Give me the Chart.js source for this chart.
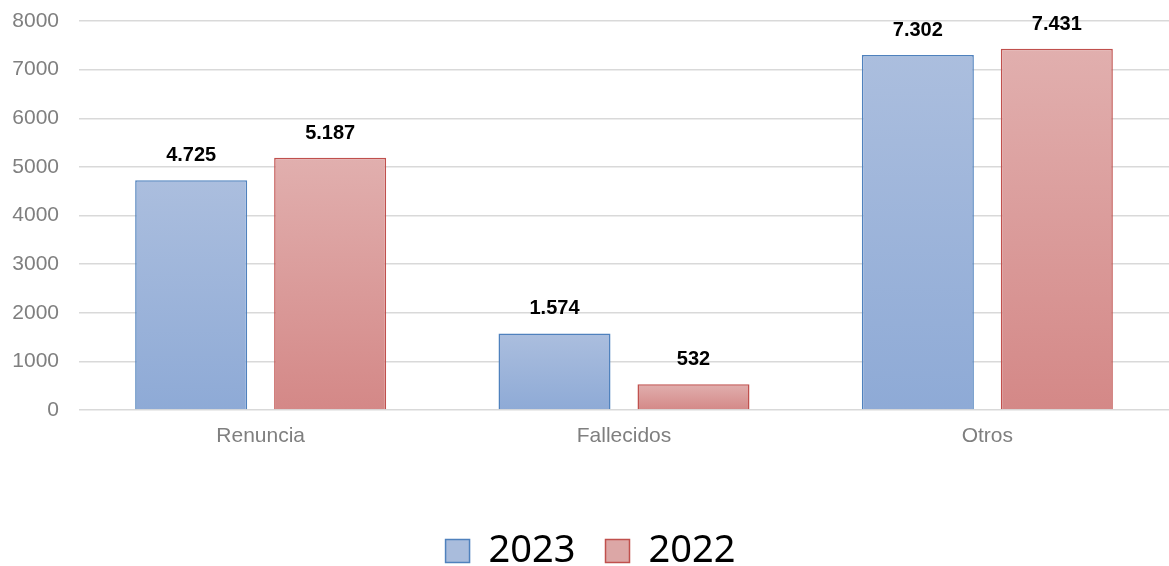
<!DOCTYPE html>
<html lang="es">
<head>
<meta charset="UTF-8" />
<title>Bajas 2023 vs 2022</title>
<script src="https://cdn.jsdelivr.net/npm/chart.js"></script>
<style>
  html, body { margin: 0; padding: 0; background: #fff; }
  #wrap { width: 1169px; height: 566px; }
</style>
</head>
<body>
<div id="wrap"><canvas id="grafico"></canvas></div>
<script>
// datos
const categorias = ["Renuncia", "Fallecidos", "Otros"];
const valores2023 = [4725, 1574, 7302];
const valores2022 = [5187, 532, 7431];
const series = ["2023", "2022"];
const colorLeyenda = ["#a9bcdc", "#dca7a6"];

// formato con punto de miles (4.725)
function formato(n) {
    return String(n).replace(/\B(?=(\d{3})+(?!\d))/g, ".");
}

// degradado por barra, de arriba (claro) hacia abajo
function degradado(arriba, abajo) {
    return function (ctx) {
        const chart = ctx.chart;
        if (!chart.chartArea || ctx.raw === undefined) return arriba;
        const y = chart.scales.y;
        const top = y.getPixelForValue(ctx.raw);
        const base = y.getPixelForValue(0);
        const g = chart.ctx.createLinearGradient(0, top, 0, base);
        g.addColorStop(0, arriba);
        g.addColorStop(1, abajo);
        return g;
    };
}

// etiquetas encima de las barras
const etiquetas = {
    id: "etiquetas",
    afterDatasetsDraw(chart) {
        const c = chart.ctx;
        c.save();
        c.font = "bold 20px 'Liberation Sans', Arial, sans-serif";
        c.fillStyle = "#000";
        c.textAlign = "center";
        c.textBaseline = "alphabetic";
        chart.data.datasets.forEach((ds, i) => {
            chart.getDatasetMeta(i).data.forEach((bar, j) => {
                c.fillText(formato(ds.data[j]), bar.x, bar.y - 19);
            });
        });
        c.restore();
    }
};

new Chart(document.getElementById("grafico"), {
    type: "bar",
    data: {
        labels: categorias,
        datasets: [{
            label: series[0],
            data: valores2023,
            backgroundColor: degradado("#abbede", "#8eaad6"),
            borderColor: "#4f81bd",
            borderWidth: 1.5
        }, {
            label: series[1],
            data: valores2022,
            backgroundColor: degradado("#e1afae", "#d48887"),
            borderColor: "#c0504d",
            borderWidth: 1.5
        }]
    },
    options: {
        responsive: true,
        maintainAspectRatio: false,
        animation: false,
        categoryPercentage: 0.765,
        barPercentage: 0.806,
        layout: { padding: { top: 21, left: 12, right: 0, bottom: -14 } },
        scales: {
            y: {
                min: 0,
                max: 8000,
                ticks: {
                    stepSize: 1000,
                    padding: 20,
                    color: "#7f7f7f",
                    font: { family: "'Liberation Sans', Arial, sans-serif", size: 21 },
                    callback: (v) => String(v)
                },
                grid: { color: "#d9d9d9", lineWidth: 1.5, drawTicks: false },
                border: { display: false },
                afterFit(scale) { scale.width = 67; scale.paddingTop = 0; }
            },
            x: {
                ticks: {
                    padding: 14,
                    color: "#7f7f7f",
                    font: { family: "'Liberation Sans', Arial, sans-serif", size: 21 }
                },
                grid: { display: false, drawTicks: false },
                border: { display: false },
                afterFit(scale) { scale.height = 92; }
            }
        },
        plugins: {
            legend: {
                position: "bottom",
                labels: {
                    color: "#000",
                    boxWidth: 24,
                    boxHeight: 23,
                    padding: 30,
                    font: { family: "'Noto Sans', sans-serif", size: 38 },
                    generateLabels(chart) {
                        const items = Chart.defaults.plugins.legend.labels.generateLabels(chart);
                        items.forEach((it, i) => { it.fillStyle = colorLeyenda[i]; });
                        return items;
                    }
                }
            },
            tooltip: { enabled: false }
        }
    },
    plugins: [etiquetas]
});
</script>
</body>
</html>
